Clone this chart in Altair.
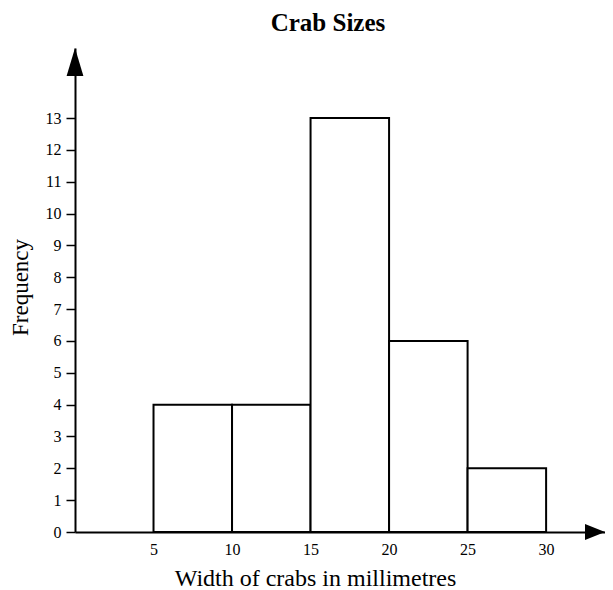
import altair as alt
import pandas as pd

# Data
bin_start = [5, 10, 15, 20, 25]
bin_end = [10, 15, 20, 25, 30]
frequency = [4, 4, 13, 6, 2]

x_ticks = [5, 10, 15, 20, 25, 30]
y_ticks = list(range(0, 14))

X_MAX = 33.75
Y_MAX = 15.2

FONT = "Liberation Serif"

bars = pd.DataFrame({"start": bin_start, "end": bin_end, "freq": frequency})
up_arrow = pd.DataFrame({"x": [0], "y": [Y_MAX]})
right_arrow = pd.DataFrame({"x": [X_MAX], "y": [0]})

xscale = alt.Scale(domain=[0, X_MAX], nice=False, zero=False)
yscale = alt.Scale(domain=[0, Y_MAX], nice=False, zero=False)

bar_layer = alt.Chart(bars).mark_rect(
    fill="white", stroke="black", strokeWidth=2
).encode(
    x=alt.X("start:Q", scale=xscale, axis=alt.Axis(
        values=x_ticks, ticks=False, grid=False, labelOverlap=False,
        domain=True, domainColor="black", domainWidth=2,
        labelFont=FONT, labelFontSize=16, labelColor="black", labelPadding=9,
        title="Width of crabs in millimetres", titleFont=FONT, titleFontSize=24,
        titleFontWeight="normal", titleColor="black",
        titleX=240, titleY=53, titleAlign="center", titleBaseline="alphabetic",
    )),
    x2="end:Q",
    y=alt.Y("freq:Q", scale=yscale, axis=alt.Axis(
        values=y_ticks, ticks=True, tickSize=9, tickWidth=1.5, tickColor="black",
        grid=False, domain=True, domainColor="black", domainWidth=2,
        labelOverlap=False,
        labelFont=FONT, labelFontSize=16, labelColor="black", labelPadding=5,
        title="Frequency", titleFont=FONT, titleFontSize=23,
        titleFontWeight="normal", titleColor="black",
        titleX=-48, titleY=239, titleAlign="center", titleBaseline="alphabetic",
        titleAngle=270,
    )),
    y2=alt.datum(0),
)

up = alt.Chart(up_arrow).mark_point(
    shape="M0,0 L0.6,2 L-0.6,2 Z", size=784, filled=True,
    color="black", opacity=1, strokeWidth=0,
).encode(
    x=alt.X("x:Q", scale=xscale, axis=None),
    y=alt.Y("y:Q", scale=yscale, axis=None),
)

right = alt.Chart(right_arrow).mark_point(
    shape="M0,0 L-2,-0.8 L-2,0.8 Z", size=400, filled=True,
    color="black", opacity=1, strokeWidth=0,
).encode(
    x=alt.X("x:Q", scale=xscale, axis=None),
    y=alt.Y("y:Q", scale=yscale, axis=None),
)

chart = alt.layer(bar_layer, up, right).resolve_axis(
    x="independent", y="independent"
).properties(
    width=530,
    height=484,
    background="white",
    autosize=alt.AutoSizeParams(type="none"),
    padding={"left": 67, "top": 40, "right": 0, "bottom": 58},
    title=alt.TitleParams(
        "Crab Sizes", font=FONT, fontSize=25, fontWeight="bold", color="black",
        anchor="middle", frame="group", dx=-12, offset=12,
    ),
).configure_view(strokeWidth=0)

chart.save("out.html", embed_options={"renderer": "svg", "actions": False})
